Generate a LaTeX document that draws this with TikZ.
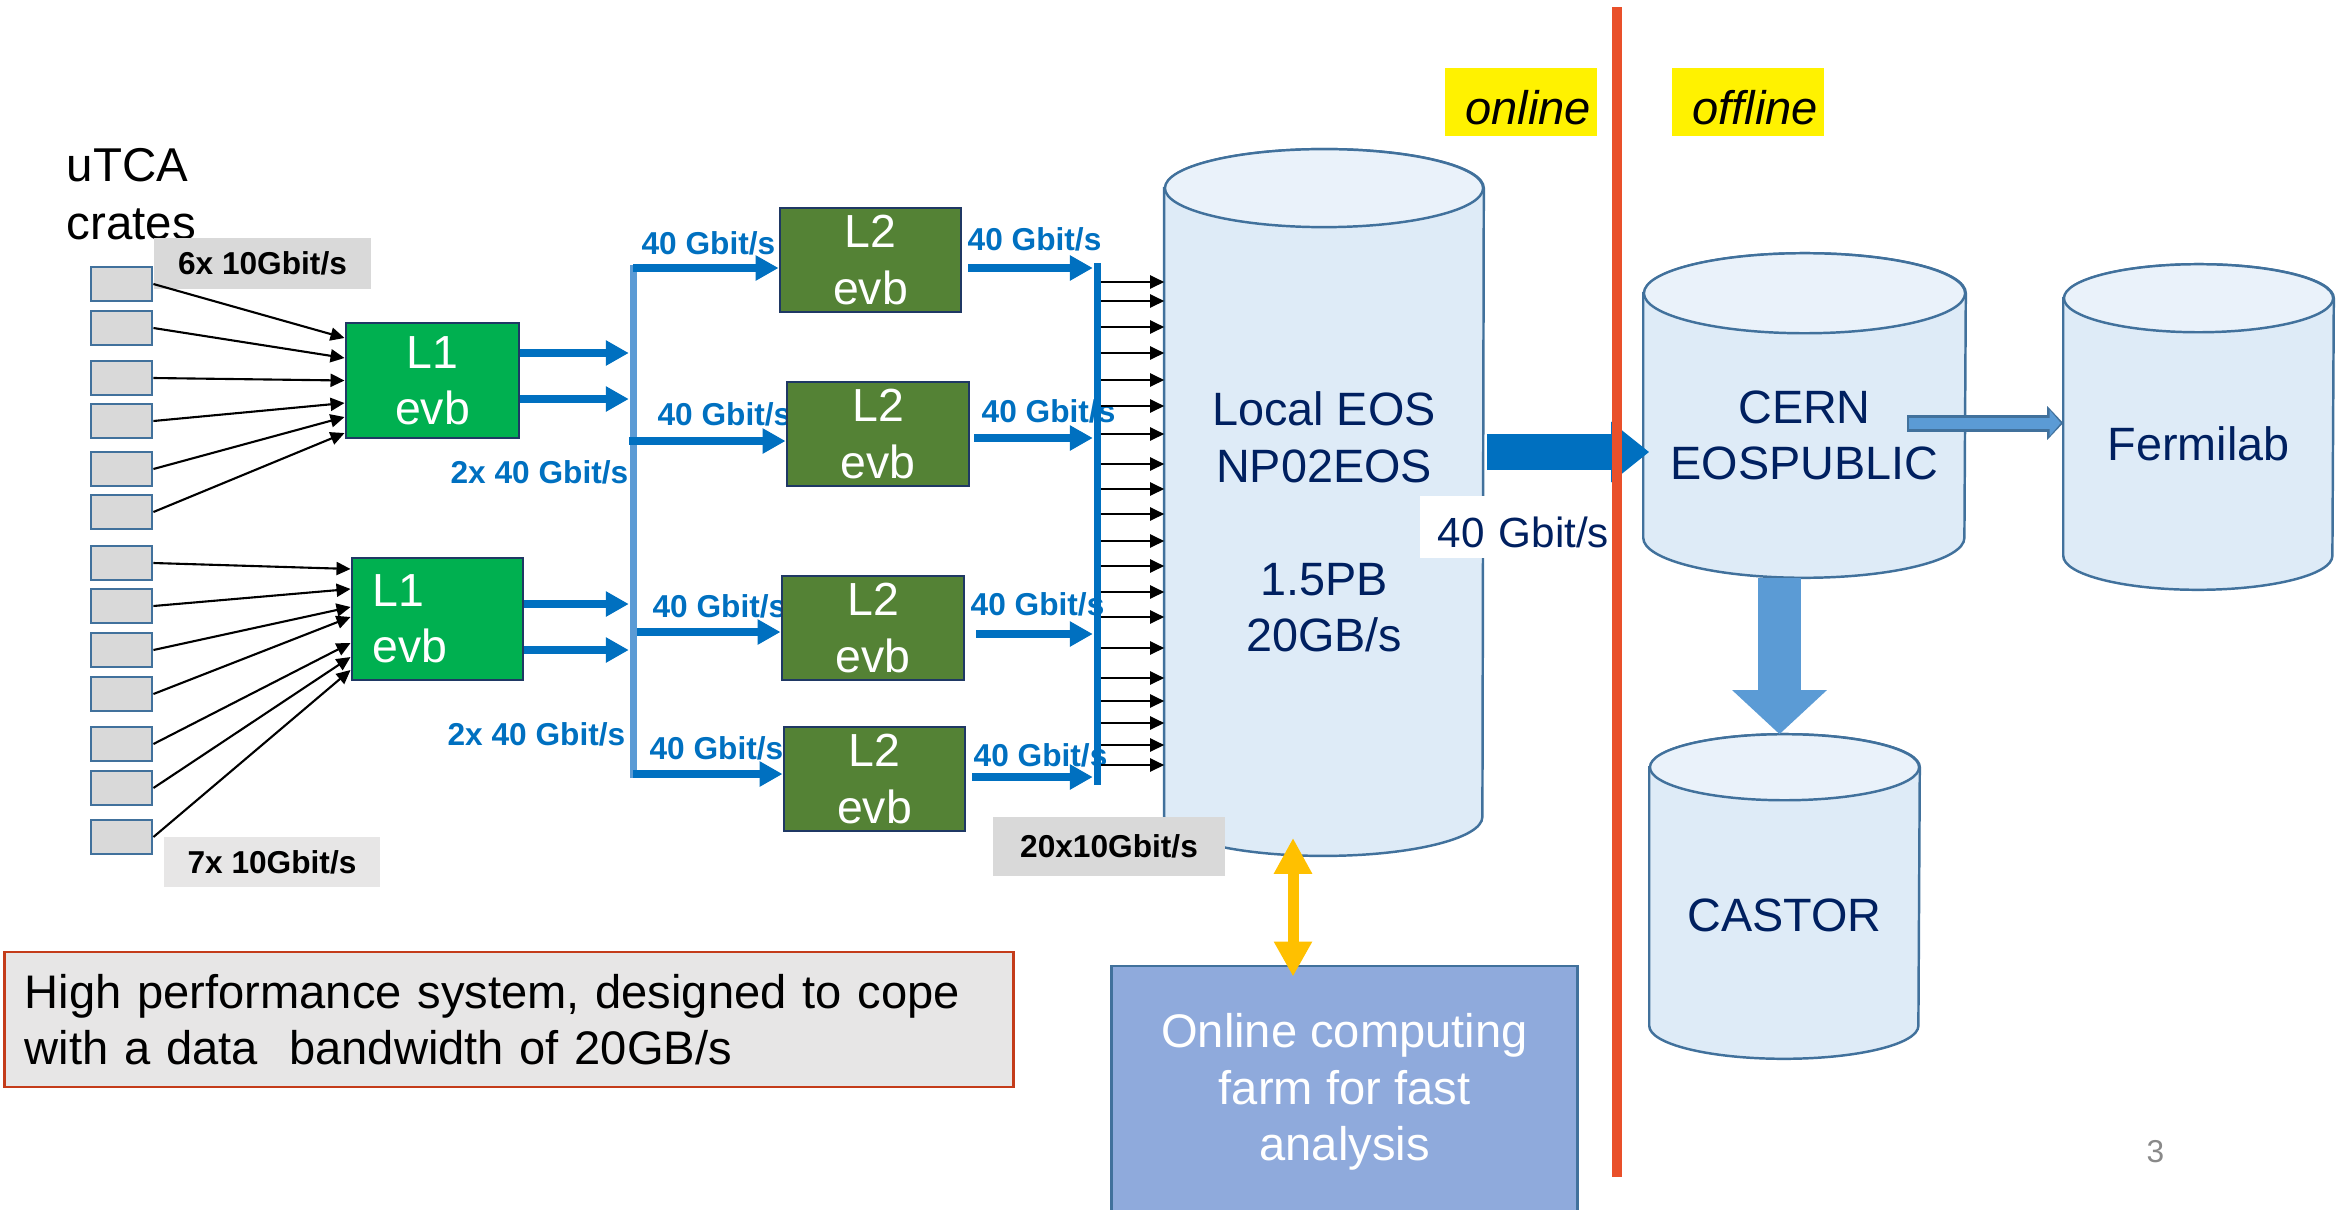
\documentclass[tikz,border=0pt]{standalone}
\usepackage{fontspec}
\setmainfont{Liberation Sans}
\usetikzlibrary{arrows.meta}

\definecolor{crategray}{HTML}{D9D9D9}
\definecolor{labelgray}{HTML}{E7E6E6}
\definecolor{edgeblue}{HTML}{41719C}
\definecolor{evbedge}{HTML}{1F3864}
\definecolor{textnavy}{HTML}{002060}
\definecolor{lonegreen}{HTML}{00B050}
\definecolor{ltwogreen}{HTML}{548235}
\definecolor{linkblue}{HTML}{0070C0}
\definecolor{busblue}{HTML}{5B9BD5}
\definecolor{drumbody}{HTML}{DEEBF7}
\definecolor{drumtop}{HTML}{EAF2FA}
\definecolor{splitred}{HTML}{E9502A}
\definecolor{farmblue}{HTML}{8FAADC}
\definecolor{arrowgold}{HTML}{FFC000}
\definecolor{noteedge}{HTML}{C43C1A}
\definecolor{pagegray}{HTML}{898989}

% storage drum drawn round a named node: name, x radius, y radius
\newcommand{\drawdrum}[3]{%
  \filldraw[drumline,fill=drumbody] ([yshift=-#3]#1.north west) -- ([yshift=#3]#1.south west)
    arc[start angle=180,end angle=360,x radius=#2,y radius=#3] -- ([yshift=-#3]#1.north east)
    arc[start angle=0,end angle=180,x radius=#2,y radius=#3] -- cycle;
  \filldraw[drumline,fill=drumtop] ([yshift=-#3]#1.north) ellipse[x radius=#2,y radius=#3];
}

\begin{document}
\begin{tikzpicture}[x=0.01cm,y=-0.01cm,
    crate/.style={draw=edgeblue,fill=crategray,line width=0.8pt,minimum width=0.61cm,minimum height=0.34cm,inner sep=0pt},
    evb/.style={draw=evbedge,line width=0.8pt,text=white,align=center,inner sep=0pt,font=\fontsize{13.2}{16}\selectfont},
    rate/.style={inner sep=0pt,text=linkblue,font=\fontsize{9}{11}\selectfont\bfseries},
    ratebox/.style={inner sep=0pt,fill=crategray,font=\fontsize{9}{11}\selectfont\bfseries},
    busbar/.style={inner sep=0pt,minimum width=0.07cm},
    drum/.style={inner sep=0pt},
    drumline/.style={draw=edgeblue,line width=0.7pt},
    drumtext/.style={text=textnavy,align=center,font=\fontsize{13.3}{16.1}\selectfont},
    sidetag/.style={fill=yellow,inner xsep=0.06cm,inner ysep=0pt,text width=1.40cm,align=right,minimum height=0.68cm,
        text height=0.44cm,text depth=0pt,font=\fontsize{13.4}{16}\selectfont\itshape},
    feed/.style={line width=0.6pt,-{Triangle[length=0.14cm,width=0.13cm]}},
    fatlink/.style={linkblue,line width=2pt,-{Triangle[length=0.23cm,width=0.24cm]}}
  ]
    \useasboundingbox (0,0) rectangle (2349,1209);

    \node[anchor=north west,inner sep=0pt,align=left,font=\fontsize{13.5}{16.4}\selectfont] (utca) at (66,148) {uTCA\\crates};

    \node[crate] (c1)  at (121.5,284) {};
    \node[crate] (c2)  at (121.5,328) {};
    \node[crate] (c3)  at (121.5,378) {};
    \node[crate] (c4)  at (121.5,421) {};
    \node[crate] (c5)  at (121.5,469) {};
    \node[crate] (c6)  at (121.5,512) {};
    \node[crate] (c7)  at (121.5,563) {};
    \node[crate] (c8)  at (121.5,606) {};
    \node[crate] (c9)  at (121.5,650) {};
    \node[crate] (c10) at (121.5,694) {};
    \node[crate] (c11) at (121.5,744) {};
    \node[crate] (c12) at (121.5,788) {};
    \node[crate] (c13) at (121.5,837) {};

    \node[ratebox,minimum width=2.17cm,minimum height=0.51cm] (r6x) at (262.5,263.5) {6x 10Gbit/s};
    \node[ratebox,fill=labelgray,minimum width=2.16cm,minimum height=0.50cm] (r7x) at (272,862) {7x 10Gbit/s};

    \node[rate,anchor=base east] (r1a) at (629,483) {2x 40 Gbit/s};
    \node[rate,anchor=base east] (r1b) at (626,745) {2x 40 Gbit/s};
    \node[rate,anchor=base east] (r2ai) at (776,254) {40 Gbit/s};
    \node[rate,anchor=base east] (r2bi) at (792,425) {40 Gbit/s};
    \node[rate,anchor=base east] (r2ci) at (787,617) {40 Gbit/s};
    \node[rate,anchor=base east] (r2di) at (784,759) {40 Gbit/s};
    \node[rate,anchor=base west] (r2ao) at (967,250.5) {40 Gbit/s};
    \node[rate,anchor=base west] (r2bo) at (981,422) {40 Gbit/s};
    \node[rate,anchor=base west] (r2co) at (970,615) {40 Gbit/s};
    \node[rate,anchor=base west] (r2do) at (973,766) {40 Gbit/s};

    \node[evb,fill=lonegreen,minimum width=1.73cm,minimum height=1.15cm] (L1a) at (432.5,380.5) {L1\\evb};
    \node[evb,fill=lonegreen,minimum width=1.71cm,minimum height=1.22cm,text width=1.29cm,align=left] (L1b) at (437.5,619) {L1\\evb};

    \node[evb,fill=ltwogreen,minimum width=1.81cm,minimum height=1.04cm] (L2a) at (870.5,260) {L2\\evb};
    \node[evb,fill=ltwogreen,minimum width=1.82cm,minimum height=1.04cm] (L2b) at (878,434) {L2\\evb};
    \node[evb,fill=ltwogreen,minimum width=1.82cm,minimum height=1.04cm] (L2c) at (873,628) {L2\\evb};
    \node[evb,fill=ltwogreen,minimum width=1.81cm,minimum height=1.04cm] (L2d) at (874.5,779) {L2\\evb};

    \node[busbar,fill=busblue,minimum height=5.13cm] (busL) at (633,521.5) {};
    \node[busbar,fill=linkblue,minimum height=5.22cm] (busR) at (1097,524) {};

    % storage
    \node[drum,minimum width=3.18cm,minimum height=7.05cm] (eos) at (1324,502.5) {};
    \drawdrum{eos}{1.59cm}{0.39cm}
    \node[drumtext] (eostxt) at ([yshift=-0.195cm]eos.center) {Local EOS\\NP02EOS\\[16.1pt]1.5PB\\20GB/s};
    \node[drum,minimum width=3.21cm,minimum height=3.23cm] (cern) at (1804.5,415.5) {};
    \drawdrum{cern}{1.605cm}{0.40cm}
    \node[drumtext] (cerntxt) at ([yshift=-0.2cm]cern.center) {CERN\\EOSPUBLIC};
    \node[drum,minimum width=2.69cm,minimum height=3.24cm] (fermi) at (2198.5,427) {};
    \drawdrum{fermi}{1.345cm}{0.34cm}
    \node[drumtext] (fermitxt) at ([yshift=-0.17cm]fermi.center) {Fermilab};
    \node[drum,minimum width=2.69cm,minimum height=3.23cm] (castor) at (1784.5,896.5) {};
    \drawdrum{castor}{1.345cm}{0.33cm}
    \node[drumtext] (castortxt) at ([yshift=-0.185cm]castor.center) {CASTOR};

    \node[ratebox,minimum width=2.32cm,minimum height=0.59cm] (r20x) at (1109,846.5) {20x10Gbit/s};

    \node[draw=edgeblue,fill=farmblue,line width=0.8pt,minimum width=4.65cm,minimum height=2.52cm,text=white,align=center,font=\fontsize{13.4}{16.1}\selectfont] (farm) at (1344.5,1092) {Online computing\\farm for fast\\analysis};

    \node[draw=noteedge,fill=labelgray,line width=0.7pt,minimum width=10.08cm,minimum height=1.35cm,text width=9.68cm,inner xsep=0.2cm,inner ysep=0pt,align=left,font=\fontsize{13.4}{16}\selectfont] (note) at (509,1019.5) {High performance system, designed to cope\\with a data\ \ bandwidth of 20GB/s};

    \node[sidetag] (online) at (1521,102) {online};
    \node[sidetag] (offline) at (1748,102) {offline};
    \node[anchor=base west,inner sep=0pt,text=pagegray,font=\fontsize{9}{11}\selectfont] (pgno) at (2146,1162) {3};

    % crates to L1
    \path [feed] (c1.east)  edge ([yshift=0.425cm]L1a.west);
    \path [feed] (c2.east)  edge ([yshift=0.225cm]L1a.west);
    \path [feed] (c3.east)  edge (L1a.west);
    \path [feed] (c4.east)  edge ([yshift=-0.225cm]L1a.west);
    \path [feed] (c5.east)  edge ([yshift=-0.365cm]L1a.west);
    \path [feed] (c6.east)  edge ([yshift=-0.525cm]L1a.west);
    \path [feed] (c7.east)  edge ([yshift=0.50cm]L1b.west);
    \path [feed] (c8.east)  edge ([yshift=0.30cm]L1b.west);
    \path [feed] (c9.east)  edge ([yshift=0.12cm]L1b.west);
    \path [feed] (c10.east) edge ([yshift=0.02cm]L1b.west);
    \path [feed] (c11.east) edge ([yshift=-0.24cm]L1b.west);
    \path [feed] (c12.east) edge ([yshift=-0.38cm]L1b.west);
    \path [feed] (c13.east) edge ([yshift=-0.51cm]L1b.west);

    % L1 to L2
    \path [fatlink] (L1a.east |- 0,353) edge (busL.west |- 0,353);
    \path [fatlink] (L1a.east |- 0,399) edge (busL.west |- 0,399);
    \path [fatlink] (L1b.east |- 0,604) edge (busL.west |- 0,604);
    \path [fatlink] (L1b.east |- 0,650) edge (busL.west |- 0,650);
    \path [fatlink] (busL.center |- 0,268) edge (L2a.west |- 0,268);
    \path [fatlink] (busL.west |- 0,441) edge (L2b.west |- 0,441);
    \path [fatlink] (busL.east |- 0,632) edge (L2c.west |- 0,632);
    \path [fatlink] (busL.center |- 0,774) edge (L2d.west |- 0,774);

    % L2 to EOS
    \path [fatlink,shorten <=0.06cm] (L2a.east |- 0,268) edge (busR.west |- 0,268);
    \path [fatlink,shorten <=0.04cm] (L2b.east |- 0,438) edge (busR.west |- 0,438);
    \path [fatlink,shorten <=0.11cm] (L2c.east |- 0,634) edge (busR.west |- 0,634);
    \path [fatlink,shorten <=0.06cm] (L2d.east |- 0,777) edge (busR.west |- 0,777);

    \path [feed] (busR.east |- 0,282) edge (eos.west |- 0,282);
    \path [feed] (busR.east |- 0,301) edge (eos.west |- 0,301);
    \path [feed] (busR.east |- 0,327) edge (eos.west |- 0,327);
    \path [feed] (busR.east |- 0,353) edge (eos.west |- 0,353);
    \path [feed] (busR.east |- 0,380) edge (eos.west |- 0,380);
    \path [feed] (busR.east |- 0,406) edge (eos.west |- 0,406);
    \path [feed] (busR.east |- 0,434) edge (eos.west |- 0,434);
    \path [feed] (busR.east |- 0,464) edge (eos.west |- 0,464);
    \path [feed] (busR.east |- 0,489) edge (eos.west |- 0,489);
    \path [feed] (busR.east |- 0,514) edge (eos.west |- 0,514);
    \path [feed] (busR.east |- 0,541) edge (eos.west |- 0,541);
    \path [feed] (busR.east |- 0,566) edge (eos.west |- 0,566);
    \path [feed] (busR.east |- 0,592) edge (eos.west |- 0,592);
    \path [feed] (busR.east |- 0,617) edge (eos.west |- 0,617);
    \path [feed] (busR.east |- 0,648) edge (eos.west |- 0,648);
    \path [feed] (busR.east |- 0,678) edge (eos.west |- 0,678);
    \path [feed] (busR.east |- 0,701) edge (eos.west |- 0,701);
    \path [feed] (busR.east |- 0,723) edge (eos.west |- 0,723);
    \path [feed] (busR.east |- 0,745) edge (eos.west |- 0,745);
    \path [feed] (busR.east |- 0,765) edge (eos.west |- 0,765);

    % offline side
    \coordinate (cx) at (1779.5,0);
    \path [busblue,line width=0.43cm,-{Triangle[length=0.44cm,width=0.92cm]}] (cx |- cern.south) edge (cx |- castor.north);
    \path [edgeblue,line width=0.17cm,-{Triangle[length=0.16cm,width=0.33cm]},shorten <=-0.585cm] (cern.east |- 0,423) edge (fermi.west |- 0,423);
    \path [busblue,line width=0.11cm,-{Triangle[length=0.11cm,width=0.25cm]},shorten <=-0.57cm,shorten >=0.025cm] (cern.east |- 0,423) edge (fermi.west |- 0,423);

    \path [linkblue,line width=0.36cm,-{Triangle[length=0.38cm,width=0.58cm]},shorten <=0.03cm,shorten >=-0.06cm] (eos.east |- 0,452) edge (cern.west |- 0,452);
    \node[fill=white,inner ysep=0pt,inner xsep=0.02cm,text width=1.87cm,align=right,text height=0.40cm,text depth=0pt,text=textnavy,minimum width=1.91cm,minimum height=0.62cm,font=\fontsize{12}{14}\selectfont] (wan) at (1515.5,527) {40 Gbit/s};

    \draw[splitred,line width=2.85pt] (1617,7) -- (1617,1177);

    \coordinate (gx) at (1293,0);
    \path [arrowgold,line width=0.11cm,{Triangle[length=0.36cm,width=0.36cm]}-{Triangle[length=0.35cm,width=0.36cm]},shorten <=-0.18cm,shorten >=-0.12cm] (gx |- eos.south) edge (gx |- farm.north);
\end{tikzpicture}
\end{document}
